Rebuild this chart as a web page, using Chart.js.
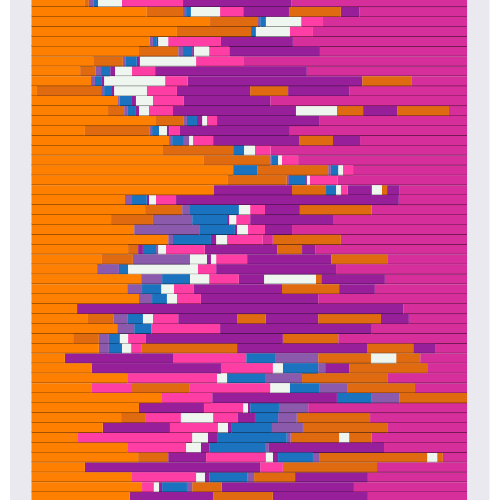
<!DOCTYPE html>
<html><head><meta charset="utf-8">
<script src="https://cdn.jsdelivr.net/npm/chart.js@4/dist/chart.umd.min.js"></script>
<style>
html,body{margin:0;padding:0;background:#fff;width:500px;height:500px;overflow:hidden}
#wrap{position:absolute;left:0;top:-3px;width:500px;height:505px}
</style></head>
<body><div id="wrap"><canvas id="c"></canvas></div>
<script>
// states and colours
const stateCodes  = ['O','D','L','B','W','P','U','M'];
const stateColors = ['#ff7f00','#e06a10','#8c5aad','#1b72bf','#eef6ef','#fe3ea4','#97209a','#d62f9b'];

// one row per sequence: state codes of successive spells, and the end of each spell (0-100)
const rowStates = [
 "ODLBWPUM","ODLBWPUDUM","ODLBWPM","ODBWPM","OLBUWPUM","ODLBUWPUM","ODLBUWPM","ODLBUWPUM",
 "OLBUWPUDM","ODLBUWPUDUM","OLBUWPUM","ODLBUWPUWDUDM","ODLBUWPUM","ODLBWUPUM","OLBLWPUDUM","ODBWPM",
 "ODLBWPM","OBDLBWPM","ODLBUWPM","OUDBWPUWDUM","OLBUWPUM","ODLBWPUDM","ODLBUWPUM","OLBUWPUM",
 "OLBUWPMDM","ODUBLWPUDUM","ODLWUWPUDM","OLBWPUM","OLBWPUWDUM","OLBWPUDUM","OLBWPUM","OUM",
 "ODLBWPUDUDUM","OLBPUM","ODLBWPUDM","OLBWPDUDUM","OUPBLDWDM","OUPWBLUDM","OPWBLDM","OPDPWBLDM",
 "OPUBLD","OUPWUBLM","ODPWPUBLDM","OUPWUBLDM","OPWUBLDWDM","OPWUBLUM","ODUPWUBLDWDM","OUPDM",
 "OPWUBLDUM","OPWUBLDUM","OUDUM"
];
const rowEnds = [
 [12.3,13.2,14.2,15.3,20.8,34.8,59.6,100],
 [26.5,34.8,35.5,36.6,43.3,48.6,59.1,71.0,75.2,100],
 [41.0,51.8,52.5,53.8,61.9,66.9,100],
 [33.4,50.4,51.5,59.3,64.6,100],
 [27.2,27.9,28.8,29.1,31.4,43.5,60.0,100],
 [24.7,33.7,34.8,36.9,37.3,40.8,45.4,66.2,100],
 [14.2,21.0,21.7,24.2,24.9,37.8,48.6,100],
 [11.2,14.8,16.0,18.1,19.2,23.1,28.4,63.2,100],
 [13.7,14.6,16.2,16.7,30.7,35.9,75.9,87.3,100],
 [1.3,16.0,16.7,18.3,19.0,26.5,33.4,50.2,58.9,72.9,100],
 [19.9,20.3,22.9,24.0,27.9,35.0,54.8,100],
 [17.6,21.3,22.0,24.0,24.7,27.0,32.5,60.7,70.1,76.1,83.9,95.8,100],
 [28.6,35.0,35.7,38.0,39.2,40.3,42.6,66.0,100],
 [12.3,27.2,27.7,29.3,31.1,31.6,34.1,59.3,100],
 [31.6,32.3,35.0,36.2,37.1,41.7,61.4,69.2,75.4,100],
 [30.2,46.3,48.8,51.3,54.9,100],
 [39.6,54.8,55.2,56.6,57.5,61.2,100],
 [46.3,51.8,68.1,68.7,70.4,71.5,73.8,100],
 [45.1,58.6,59.1,62.8,63.2,63.9,70.3,100],
 [41.9,59.8,67.6,69.9,71.0,72.6,78.1,80.4,81.6,84.5,100],
 [21.5,23.1,26.5,27.0,28.6,33.2,84.3,100],
 [26.1,34.6,36.2,47.6,50.2,53.6,61.6,78.1,100],
 [18.3,27.9,36.9,44.9,45.4,47.0,50.2,69.2,100],
 [23.6,38.5,46.7,47.2,49.7,53.6,59.8,100],
 [31.4,32.5,41.2,42.4,44.9,53.1,55.4,71.0,100],
 [22.2,24.5,25.6,28.6,29.1,30.9,39.8,56.4,62.1,65.1,100],
 [16.2,23.3,36.4,40.3,41.2,42.4,49.5,68.8,81.8,100],
 [15.1,20.1,22.2,38.2,42.4,69.9,100],
 [25.2,30.0,36.4,40.8,47.6,53.4,65.3,66.5,81.1,100],
 [22.0,25.4,29.8,32.7,37.3,57.5,70.6,78.8,100],
 [24.7,27.7,31.1,33.4,38.9,65.8,100],
 [10.5,85.3,100],
 [13.0,18.8,22.0,25.6,27.9,33.7,47.2,53.8,65.8,80.2,86.6,100],
 [19.7,23.6,27.5,43.3,78.1,100],
 [9.6,15.5,17.8,20.3,22.2,26.3,57.7,70.4,100],
 [15.5,17.8,20.8,22.9,25.2,47.2,77.0,87.6,92.6,100],
 [7.7,32.5,49.3,55.9,65.8,77.9,83.7,89.2,100],
 [13.9,43.5,55.4,57.7,65.8,67.4,72.9,90.8,100],
 [22.0,42.6,44.9,53.8,62.1,81.8,100],
 [13.9,23.1,36.2,54.8,59.3,66.0,72.6,88.0,100],
 [29.8,41.5,70.1,78.1,84.5,100],
 [24.7,39.6,48.6,49.7,50.2,56.8,63.5,100],
 [20.6,26.1,34.3,41.7,47.4,51.3,56.6,60.9,77.7,100],
 [16.4,31.8,42.8,45.1,46.0,55.2,62.3,81.8,100],
 [10.7,36.9,40.5,42.6,58.6,59.5,70.6,72.9,78.1,100],
 [22.0,35.5,38.9,40.8,53.8,54.5,80.9,100],
 [24.5,31.4,40.1,53.8,55.4,56.6,64.6,66.0,90.8,93.1,94.4,100],
 [12.3,52.5,57.7,79.3,100],
 [23.1,37.8,39.8,40.8,49.5,51.1,60.5,77.2,100],
 [25.4,28.1,29.3,30.0,35.7,36.9,43.7,74.0,100],
 [22.6,41.7,55.4,77.2,100]
];
const rowLabels = rowStates.map((_, i) => String(i + 1));

function shade(hex, f) {
  const n = parseInt(hex.slice(1), 16);
  const r = Math.round(((n >> 16) & 255) * f), g = Math.round(((n >> 8) & 255) * f), b = Math.round((n & 255) * f);
  return `rgb(${r},${g},${b})`;
}
const colorOf = c => stateColors[stateCodes.indexOf(c)];

const maxSeg = Math.max(...rowStates.map(s => s.length));
const datasets = [];
for (let k = 0; k < maxSeg; k++) {
  const data = [], bg = [], bd = [];
  rowStates.forEach((s, i) => {
    if (k < s.length) {
      const start = k === 0 ? 0 : rowEnds[i][k - 1];
      data.push([start, rowEnds[i][k]]);
      bg.push(colorOf(s[k]));
      bd.push(shade(colorOf(s[k]), 0.55));
    } else { data.push(null); bg.push('rgba(0,0,0,0)'); bd.push('rgba(0,0,0,0)'); }
  });
  datasets.push({
    data, backgroundColor: bg, borderColor: bd,
    borderWidth: {top: 0, left: 0, right: 0, bottom: 1},
    borderSkipped: false, grouped: false,
    barPercentage: 1, categoryPercentage: 1, inflateAmount: 0.4
  });
}

const panelBg = {
  id: 'panelBg',
  beforeDraw(chart) {
    const ctx = chart.ctx;
    ctx.save();
    ctx.fillStyle = '#ffffff';
    ctx.fillRect(0, 0, chart.width, chart.height);
    ctx.fillStyle = '#ebe9f0';
    ctx.fillRect(10, 0, 479.5, chart.height);
    ctx.restore();
  }
};

new Chart(document.getElementById('c'), {
  type: 'bar',
  data: { labels: rowLabels, datasets },
  options: {
    indexAxis: 'y',
    responsive: true,
    maintainAspectRatio: false,
    animation: false,
    layout: { padding: { left: 31.3, right: 32.7, top: 0, bottom: 0 } },
    plugins: { legend: { display: false }, tooltip: { enabled: false } },
    scales: {
      x: { type: 'linear', min: 0, max: 100, display: false },
      y: { type: 'category', display: false }
    }
  },
  plugins: [panelBg]
});
</script>
</body></html>
